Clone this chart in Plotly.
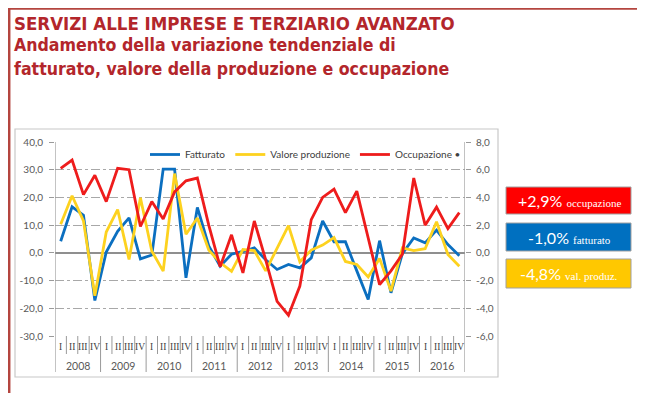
import plotly.graph_objects as go

# ---------------- data ----------------
years = ["2008", "2009", "2010", "2011", "2012", "2013", "2014", "2015", "2016"]
quarters = ["I", "II", "III", "IV"]
categories = [f"{q} {y}" for y in years for q in quarters]

fatturato = [4.2, 16.6, 13.6, -17.2, 0.3, 7.8, 12.6, -2.2, -0.8, 30.2, 30.2, -9.0,
             16.4, 2.5, -4.8, -0.5, 0.5, 1.8, -2.5, -6.0, -4.2, -5.4, -1.8, 11.5,
             4.0, 4.0, -6.5, -16.8, 4.4, -14.4, -0.3, 5.4, 3.6, 8.2, 3.0, -1.0]
valore_produzione = [10.3, 20.6, 11.5, -15.5, 7.5, 15.6, -2.4, 19.9, 0.6, -6.6, 28.6, 6.7,
                     12.6, 1.0, -3.5, -6.7, 1.2, 0.8, -6.5, 1.5, 9.8, -3.2, 1.0, 2.8,
                     5.5, -3.1, -4.2, -8.7, -2.0, -13.8, 1.8, 0.8, 1.5, 11.2, -0.6, -4.8]
occupazione = [6.1, 6.7, 4.2, 5.6, 3.7, 6.1, 6.0, 1.9, 3.7, 2.45, 4.4, 5.2,
               5.4, 2.0, -1.0, 1.3, -1.45, 2.3, -0.5, -3.5, -4.5, -2.4, 2.4, 4.0,
               4.6, 2.9, 4.45, 1.0, -2.3, -1.3, -0.1, 5.4, 2.0, 3.3, 1.75, 2.9]

left_ticks = [40, 30, 20, 10, 0, -10, -20, -30]
left_ticktext = ["40,0", "30,0", "20,0", "10,0", "0,0", "-10,0", "-20,0", "-30,0"]
right_ticks = [8, 6, 4, 2, 0, -2, -4, -6]
right_ticktext = ["8,0", "6,0", "4,0", "2,0", "0,0", "-2,0", "-4,0", "-6,0"]

series_names = ["Fatturato", "Valore produzione", "Occupazione •"]
box_values = ["+2,9%", "-1,0%", "-4,8%"]
box_labels = ["occupazione", "fatturato", "val. produz."]

title_lines = ["SERVIZI ALLE IMPRESE E TERZIARIO AVANZATO",
               "Andamento della variazione tendenziale di",
               "fatturato, valore della produzione e occupazione"]

# ---------------- style ----------------
BLUE = "#0b6fc0"
YELLOW = "#fdd21f"
RED = "#ee1c1c"
TITLE = "#b3262b"
GRID = "#a8a8a8"
AX = "#9a9a9a"
OFF = 8  # default page (body) margin of the html page
W, H = 645 - OFF, 393 - OFF
ML, MR, MT, MB = 55 - OFF, 180, 142 - OFF, 57
PW, PH = W - ML - MR, H - MT - MB
TITLE_FONT = "DejaVu Sans Condensed, DejaVu Sans, sans-serif"


def px(xp):
    # window pixel x -> paper fraction
    return (xp - OFF - ML) / PW


def py(yp):
    # window pixel y -> paper fraction
    return (H - MB - (yp - OFF)) / PH


fig = go.Figure()
fig.add_trace(go.Scatter(x=categories, y=fatturato, name=series_names[0], mode="lines",
                         line=dict(color=BLUE, width=2.8)))
fig.add_trace(go.Scatter(x=categories, y=valore_produzione, name=series_names[1], mode="lines",
                         line=dict(color=YELLOW, width=2.8)))
fig.add_trace(go.Scatter(x=categories, y=occupazione, name=series_names[2], mode="lines",
                         line=dict(color=RED, width=2.8), yaxis="y2"))

shapes = []
annotations = []

# page border
shapes.append(dict(type="rect", xref="paper", yref="paper", x0=px(OFF + 1.2), x1=px(643), y0=py(400), y1=py(OFF + 0.6),
                   line=dict(color="#b4453f", width=2.5), layer="below"))
# chart frame
shapes.append(dict(type="rect", xref="paper", yref="paper", x0=px(15), x1=px(498), y0=py(377), y1=py(129),
                   line=dict(color="#c8c8c8", width=1.2), layer="below"))

# axis lines (extending into label area)
for xv in (-0.5, len(categories) - 0.5):
    shapes.append(dict(type="line", xref="x", yref="paper", x0=xv, x1=xv, y0=1, y1=py(372),
                       line=dict(color=AX, width=1.2)))
# category dividers
for k in range(1, len(categories)):
    yb = py(372) if k % 4 == 0 else py(354)
    shapes.append(dict(type="line", xref="x", yref="paper", x0=k - 0.5, x1=k - 0.5, y0=0, y1=yb,
                       line=dict(color=AX, width=1)))

# quarter and year labels
for i, c in enumerate(categories):
    annotations.append(dict(x=i, y=py(347), xref="x", yref="paper", text=quarters[i % 4],
                            showarrow=False, font=dict(family="Liberation Serif", size=9.5, color="#404040"),
                            xanchor="center", yanchor="middle"))
for j, yname in enumerate(years):
    annotations.append(dict(x=4 * j + 1.5, y=py(366), xref="x", yref="paper", text=yname,
                            showarrow=False, font=dict(family="Lato", size=10.5, color="#595959"),
                            xanchor="center", yanchor="middle"))

# titles
title_y = [23.5, 44.5, 69]
title_sizes = [18.5, 17.6, 17.6]
for t, yy, fs in zip(title_lines, title_y, title_sizes):
    annotations.append(dict(x=px(12), y=py(yy), xref="paper", yref="paper", text="<b>" + t + "</b>",
                            showarrow=False, xanchor="left", yanchor="middle",
                            font=dict(family=TITLE_FONT, size=fs, color=TITLE)))

# side boxes
box_fill = ["#ff0000", "#0070c0", "#ffc800"]
box_y = [(187, 214), (223, 251), (259, 288)]
for val, lab, col, (y0, y1) in zip(box_values, box_labels, box_fill, box_y):
    shapes.append(dict(type="rect", xref="paper", yref="paper", x0=px(506), x1=px(631),
                       y0=py(y1), y1=py(y0), fillcolor=col, line=dict(color="#a0a0a0", width=1)))
    annotations.append(dict(x=px(569), y=py((y0 + y1) / 2), xref="paper", yref="paper",
                            text=f"{val} <span style='font-family:Liberation Serif;font-size:11px'>{lab}</span>",
                            showarrow=False, xanchor="center", yanchor="middle",
                            font=dict(family="Lato", size=16, color="white")))

fig.update_layout(
    width=W, height=H,
    margin=dict(l=ML, r=MR, t=MT, b=MB, pad=0),
    paper_bgcolor="white", plot_bgcolor="white",
    showlegend=True,
    legend=dict(orientation="h", x=px(145), y=py(154.5), xanchor="left", yanchor="middle",
                font=dict(family="Lato", size=10, color="#404040"), bgcolor="rgba(0,0,0,0)",
                itemwidth=30, tracegroupgap=0),
    xaxis=dict(type="category", categoryorder="array", categoryarray=categories,
               range=[-0.5, len(categories) - 0.5], showticklabels=False, showgrid=False,
               zeroline=False, showline=False, ticks=""),
    yaxis=dict(range=[-30, 40], tickvals=left_ticks, ticktext=left_ticktext, showgrid=True,
               gridcolor=GRID, griddash="dashdot", gridwidth=1, zeroline=True,
               zerolinecolor="#8f8f8f", zerolinewidth=1.6, showline=False, ticks="outside",
               ticklen=5, tickcolor=AX, ticklabelstandoff=4,
               tickfont=dict(family="Lato", size=10, color="#595959")),
    yaxis2=dict(range=[-6, 8], tickvals=right_ticks, ticktext=right_ticktext, overlaying="y",
                side="right", showgrid=False, zeroline=False, showline=False, ticks="outside",
                ticklen=5, tickcolor=AX, ticklabelstandoff=3,
                tickfont=dict(family="Lato", size=10, color="#595959")),
    shapes=shapes, annotations=annotations,
)

fig.write_html("out.html")
